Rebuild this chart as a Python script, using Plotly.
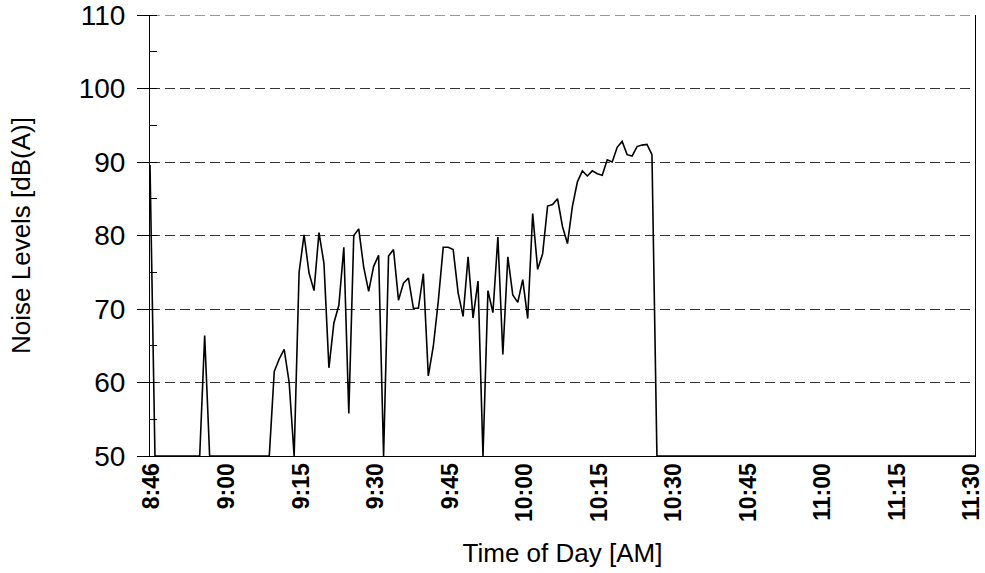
import plotly.graph_objects as go

# Minutes since start of recording (one sample per minute)
sample_minute = list(range(167))

noise_db = (
    [89.6]
    + [50] * 10
    + [66.4]
    + [50] * 13
    + [61.5, 63.2, 64.5, 60.0, 50,
       75.0, 80.1, 74.9, 72.5, 80.4, 76.2, 62.0, 68.1, 70.5, 78.4,
       55.8, 80.0, 80.9, 75.7, 72.4, 75.8, 77.3, 50, 77.2, 78.1,
       71.2, 73.5, 74.2, 70.1, 70.1, 74.8, 60.9, 64.9, 71.0, 78.4,
       78.4, 78.1, 72.2, 69.0, 77.1, 68.8, 73.8, 50, 72.5, 69.5,
       79.8, 63.8, 77.1, 71.9, 70.9, 74.0, 68.7, 83.0, 75.4, 77.5,
       84.0, 84.2, 85.0, 81.2, 78.9, 84.0, 87.3, 88.8, 88.1, 88.8,
       88.4, 88.2, 90.3, 90.0, 92.0, 92.8, 91.0, 90.8, 92.1, 92.3,
       92.4, 91.0]
    + [50] * 65
)

tick_minutes = [0, 15, 30, 45, 60, 75, 90, 105, 120, 135, 150, 165]
tick_labels = ["8:46", "9:00", "9:15", "9:30", "9:45", "10:00",
               "10:15", "10:30", "10:45", "11:00", "11:15", "11:30"]
y_ticks = [50, 60, 70, 80, 90, 100, 110]

FONT = "Liberation Sans, Arial, sans-serif"
GRID = "#333333"

fig = go.Figure()
fig.add_trace(go.Scatter(
    x=sample_minute, y=noise_db, mode="lines",
    line=dict(color="black", width=1.6),
    showlegend=False, hoverinfo="skip",
))

# dashed gridline along the top edge (110 dB)
fig.add_hline(y=y_ticks[-1], line=dict(color=GRID, width=1, dash="10px,5px"), layer="below")

fig.update_layout(
    width=985, height=573,
    margin=dict(l=150, r=10, t=15, b=117, autoexpand=False),
    paper_bgcolor="white", plot_bgcolor="white",
    font=dict(family=FONT, color="black"),
)

fig.update_xaxes(
    range=[0, 166], automargin=False,
    tickmode="array", tickvals=tick_minutes, ticktext=tick_labels,
    tickangle=-90, ticks="", showgrid=False, zeroline=False,
    tickfont=dict(family=FONT, size=23, color="black", weight="bold"),
    ticklabelshift=2, ticklabelstandoff=-3, ticklabeloverflow="allow",
    showline=True, linecolor="black", linewidth=1,
    title=dict(text="Time of Day [AM]", font=dict(family=FONT, size=26), standoff=22),
)

fig.update_yaxes(
    range=[50, 110], automargin=False,
    tickmode="array", tickvals=y_ticks,
    ticks="outside", ticklen=12, tickcolor="black", tickwidth=1,
    minor=dict(ticks="inside", ticklen=7, dtick=5, tickcolor="black", showgrid=False),
    showgrid=True, gridcolor=GRID, gridwidth=1, griddash="10px,5px",
    zeroline=False,
    showline=True, linecolor="black", linewidth=1, mirror=True,
    tickfont=dict(family=FONT, size=28, color="black"),
    ticklabelstandoff=6, ticklabeloverflow="allow",
    title=dict(text="Noise Levels [dB(A)]", font=dict(family=FONT, size=26), standoff=40),
)

fig.write_html("out.html", config={"displayModeBar": False},
               post_script="document.body.style.margin='0';")
